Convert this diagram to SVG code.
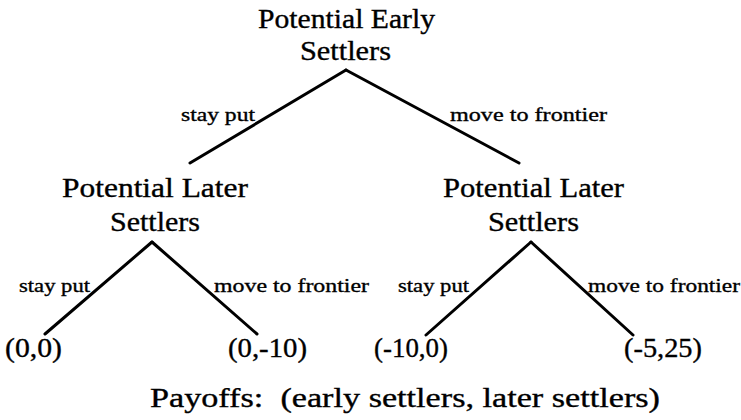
<svg xmlns="http://www.w3.org/2000/svg" width="741" height="420" viewBox="0 0 741 420">
<style>
text{font-family:'Liberation Serif','DejaVu Serif',serif;fill:#000;stroke:#000;stroke-width:0.35}
.n{font-size:27px}
.e{font-size:19px}
.p{font-size:27px}
.c line{stroke:#000;stroke-width:3;stroke-linecap:round}
</style>
<rect width="741" height="420" fill="#fff"/>
<g class="c" id="connectors">
<line x1="346" y1="70" x2="190" y2="163"/>
<line x1="346" y1="70" x2="519" y2="163"/>
<line x1="152" y1="242" x2="45" y2="334"/>
<line x1="152" y1="242" x2="257" y2="334"/>
<line x1="531" y1="242" x2="426" y2="335"/>
<line x1="531" y1="242" x2="633" y2="335"/>
</g>
<g id="edge-labels" font-family="Liberation Serif, serif">
<text class="e" x="181" y="121" textLength="74" lengthAdjust="spacingAndGlyphs">stay put</text>
<text class="e" x="450" y="121" textLength="157" lengthAdjust="spacingAndGlyphs">move to frontier</text>
<text class="e" x="19" y="292" textLength="71" lengthAdjust="spacingAndGlyphs">stay put</text>
<text class="e" x="214" y="292" textLength="155" lengthAdjust="spacingAndGlyphs">move to frontier</text>
<text class="e" x="398" y="292" textLength="71" lengthAdjust="spacingAndGlyphs">stay put</text>
<text class="e" x="588" y="292" textLength="152" lengthAdjust="spacingAndGlyphs">move to frontier</text>
</g>
<g id="root">
<text class="n" x="258" y="28" textLength="177" lengthAdjust="spacingAndGlyphs">Potential Early</text>
<text class="n" x="300" y="60" textLength="91" lengthAdjust="spacingAndGlyphs">Settlers</text>
</g>
<g id="later-left">
<text class="n" x="62" y="197" textLength="186" lengthAdjust="spacingAndGlyphs">Potential Later</text>
<text class="n" x="110" y="231" textLength="90" lengthAdjust="spacingAndGlyphs">Settlers</text>
</g>
<g id="later-right">
<text class="n" x="443" y="197" textLength="181" lengthAdjust="spacingAndGlyphs">Potential Later</text>
<text class="n" x="488" y="231" textLength="91" lengthAdjust="spacingAndGlyphs">Settlers</text>
</g>
<g id="payoff-1"><text class="p" x="5" y="357" textLength="57" lengthAdjust="spacingAndGlyphs">(0,0)</text></g>
<g id="payoff-2"><text class="p" x="228" y="357" textLength="79" lengthAdjust="spacingAndGlyphs">(0,-10)</text></g>
<g id="payoff-3"><text class="p" x="374" y="357" textLength="74" lengthAdjust="spacingAndGlyphs">(-10,0)</text></g>
<g id="payoff-4"><text class="p" x="624" y="357" textLength="78" lengthAdjust="spacingAndGlyphs">(-5,25)</text></g>
<g id="legend"><text class="p" x="150" y="407" textLength="510" lengthAdjust="spacingAndGlyphs" xml:space="preserve">Payoffs:  (early settlers, later settlers)</text></g>
</svg>
